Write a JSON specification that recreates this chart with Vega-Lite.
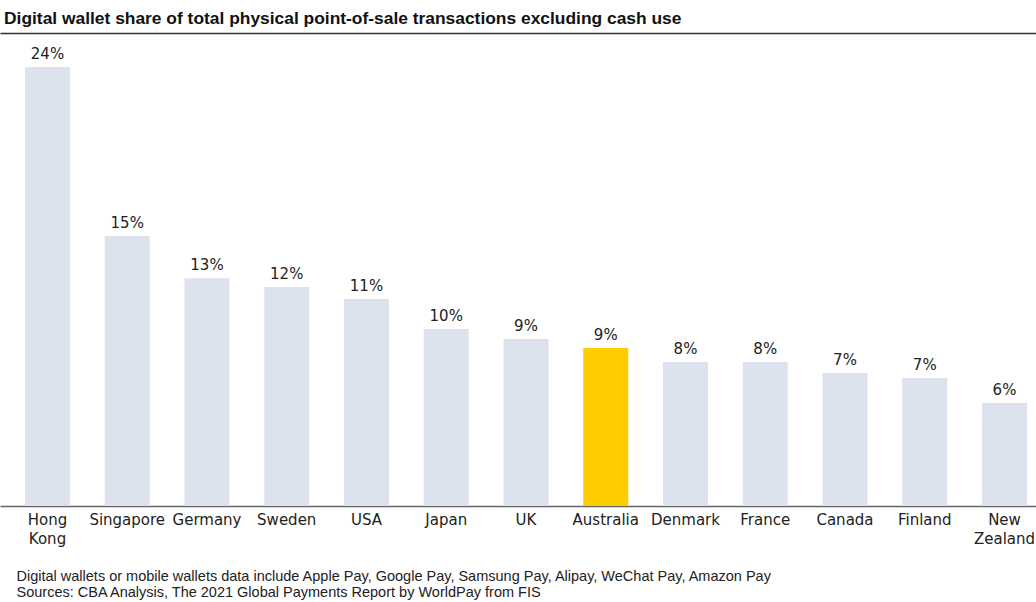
{
  "$schema": "https://vega.github.io/schema/vega-lite/v6.json",
  "width": 1036,
  "height": 473,
  "autosize": {"type": "none"},
  "padding": {"left": 0, "top": 33, "right": 0, "bottom": 96},
  "background": "white",
  "view": {"stroke": null},
  "title": {
    "text": "Digital wallet share of total physical point-of-sale transactions excluding cash use",
    "anchor": "start",
    "frame": "group",
    "font": "Liberation Sans",
    "fontSize": 17.4,
    "fontWeight": "bold",
    "color": "#111111",
    "offset": 6,
    "dx": 4
  },
  "data": {
    "values": [
      {"country": "Hong Kong", "share": 0.242},
      {"country": "Singapore", "share": 0.1488},
      {"country": "Germany", "share": 0.1255},
      {"country": "Sweden", "share": 0.1207},
      {"country": "USA", "share": 0.1141},
      {"country": "Japan", "share": 0.0976},
      {"country": "UK", "share": 0.0921},
      {"country": "Australia", "share": 0.0871},
      {"country": "Denmark", "share": 0.0794},
      {"country": "France", "share": 0.0794},
      {"country": "Canada", "share": 0.0733},
      {"country": "Finland", "share": 0.0706},
      {"country": "New Zealand", "share": 0.0568}
    ]
  },
  "layer": [
    {
      "mark": {"type": "bar"},
      "encoding": {
        "x": {
          "field": "country",
          "type": "nominal",
          "sort": null,
          "scale": {"paddingInner": 0.4357, "paddingOuter": 0.2132, "align": 0.735},
          "axis": {
            "orient": "bottom",
            "domain": true,
            "domainColor": "#666666",
            "domainWidth": 1.5,
            "ticks": false,
            "labelAngle": 0,
            "labelFont": "DejaVu Sans",
            "labelFontSize": 15,
            "labelColor": "#222222",
            "labelPadding": 6,
            "labelBaseline": "top",
            "labelLineHeight": 19,
            "labelOverlap": false,
            "labelLimit": 0,
            "labelBound": false,
            "labelExpr": "split(datum.label, ' ')",
            "title": [
              "Digital wallets or mobile wallets data include Apple Pay, Google Pay, Samsung Pay, Alipay, WeChat Pay, Amazon Pay",
              "Sources: CBA Analysis, The 2021 Global Payments Report by WorldPay from FIS"
            ],
            "titleAnchor": "start",
            "titleAlign": "left",
            "titleBaseline": "top",
            "titleX": 16,
            "titleY": 63,
            "titleFont": "Liberation Sans",
            "titleFontSize": 14.5,
            "titleFontWeight": "normal",
            "titleLineHeight": 16,
            "titleColor": "#222222"
          }
        },
        "y": {
          "field": "share",
          "type": "quantitative",
          "scale": {"domain": [0, 0.2607], "nice": false, "zero": true},
          "axis": null
        },
        "color": {
          "condition": {"test": "datum.country === 'Australia'", "value": "#ffcc00"},
          "value": "#dde3ee"
        }
      }
    },
    {
      "mark": {"type": "text", "baseline": "alphabetic", "dy": -8, "font": "DejaVu Sans", "fontSize": 15, "color": "#222222"},
      "encoding": {
        "x": {
          "field": "country",
          "type": "nominal",
          "sort": null,
          "axis": {
            "orient": "top",
            "domain": true,
            "domainColor": "#333333",
            "domainWidth": 1.5,
            "ticks": false,
            "labels": false,
            "title": null
          }
        },
        "y": {"field": "share", "type": "quantitative"},
        "text": {"field": "share", "type": "quantitative", "format": ".0%"}
      }
    }
  ],
  "resolve": {"axis": {"x": "independent"}}
}
